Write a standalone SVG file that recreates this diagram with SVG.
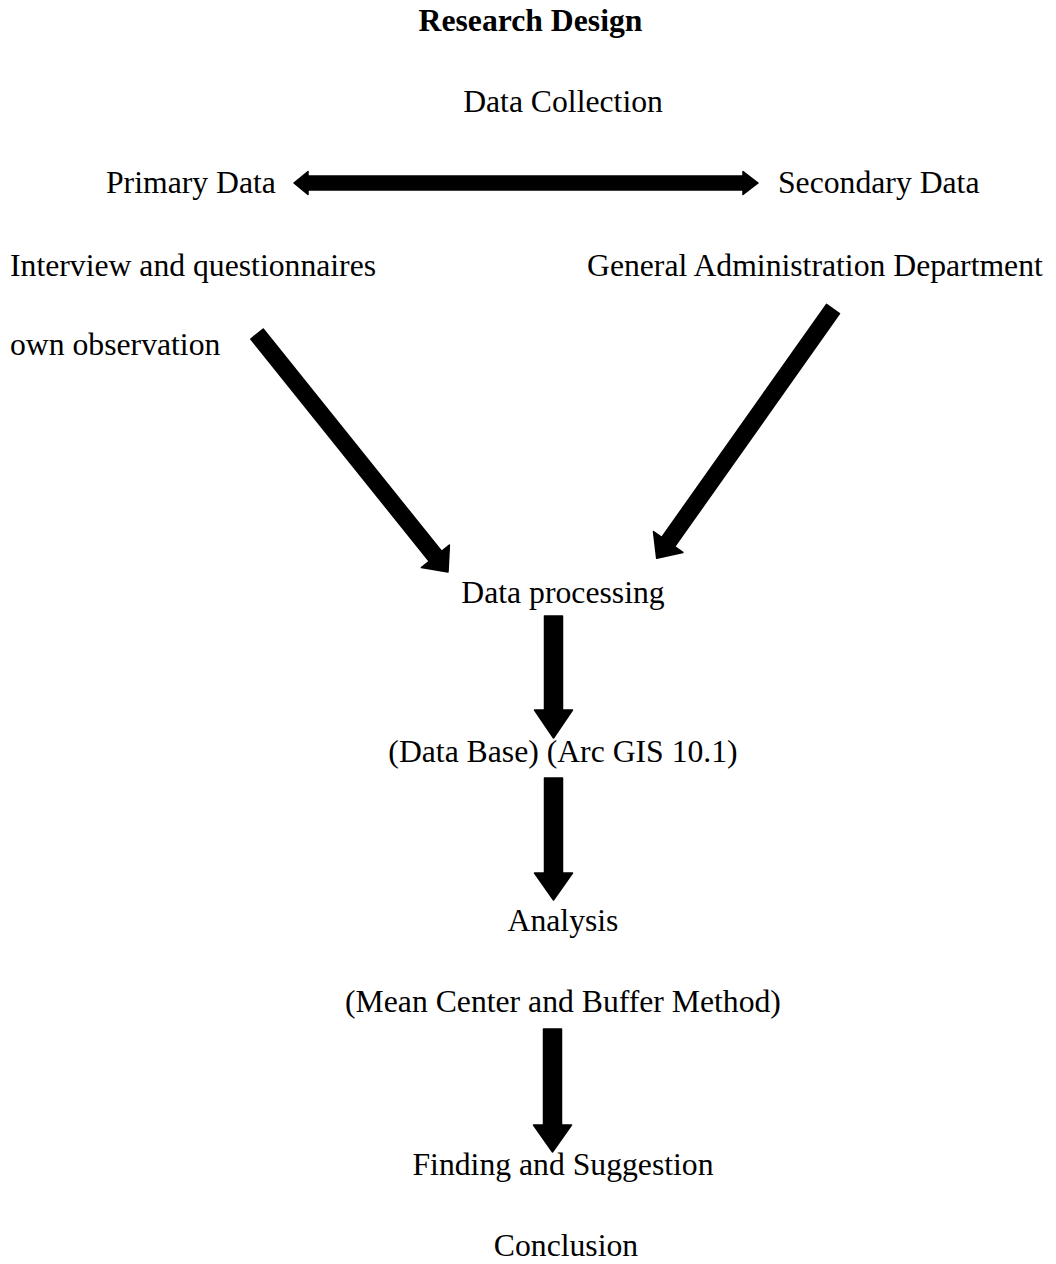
<svg xmlns="http://www.w3.org/2000/svg" width="1056" height="1264" viewBox="0 0 1056 1264">
<style>
text{font-family:"Liberation Serif","Times New Roman",serif;font-size:31.7px;fill:#000}
.b{font-weight:bold}
.c{text-anchor:middle}
.arr{fill:#000;stroke:#000;stroke-width:1.5;stroke-linejoin:round}
</style>
<rect width="1056" height="1264" fill="#fff"/>
<g id="title"><text class="b c" x="530.5" y="31">Research Design</text></g>
<g id="data-collection"><text class="c" x="563" y="112">Data Collection</text></g>
<g id="primary-data"><text x="106" y="193">Primary Data</text></g>
<g id="secondary-data"><text x="778" y="193">Secondary Data</text></g>
<g id="interview"><text x="10" y="276">Interview and questionnaires</text></g>
<g id="observation"><text x="10" y="355">own observation</text></g>
<g id="gad"><text x="587" y="276">General Administration Department</text></g>
<g id="data-processing"><text class="c" x="563" y="603">Data processing</text></g>
<g id="database"><text class="c" x="563" y="762">(Data Base) (Arc GIS 10.1)</text></g>
<g id="analysis"><text class="c" x="563" y="931">Analysis</text></g>
<g id="method"><text class="c" x="563" y="1012">(Mean Center and Buffer Method)</text></g>
<g id="finding"><text class="c" x="563" y="1175">Finding and Suggestion</text></g>
<g id="conclusion"><text class="c" x="566" y="1256">Conclusion</text></g>
<g id="connectors">
<polygon class="arr" points="294,183 308,171.5 308,176 743,176 743,171.5 758,183 743,194.5 743,190 308,190 308,194.5"/>
<polygon class="arr" points="263.2,329 441.6,551.3 449.4,545 448,572 421.4,567.6 429.2,561.3 250.8,339"/>
<polygon class="arr" points="839.5,313.6 674.7,546.6 682.9,552.4 656.7,558.3 653.5,531.6 661.7,537.4 826.5,304.4"/>
<polygon class="arr" points="544.5,616 562.5,616 562.5,710 572.5,710 553.5,738 534.5,710 544.5,710"/>
<polygon class="arr" points="544.5,778 562.5,778 562.5,873 572.5,873 553.5,900 534.5,873 544.5,873"/>
<polygon class="arr" points="543.5,1029 561.5,1029 561.5,1125 571.5,1125 552.5,1152 533.5,1125 543.5,1125"/>
</g>
</svg>
